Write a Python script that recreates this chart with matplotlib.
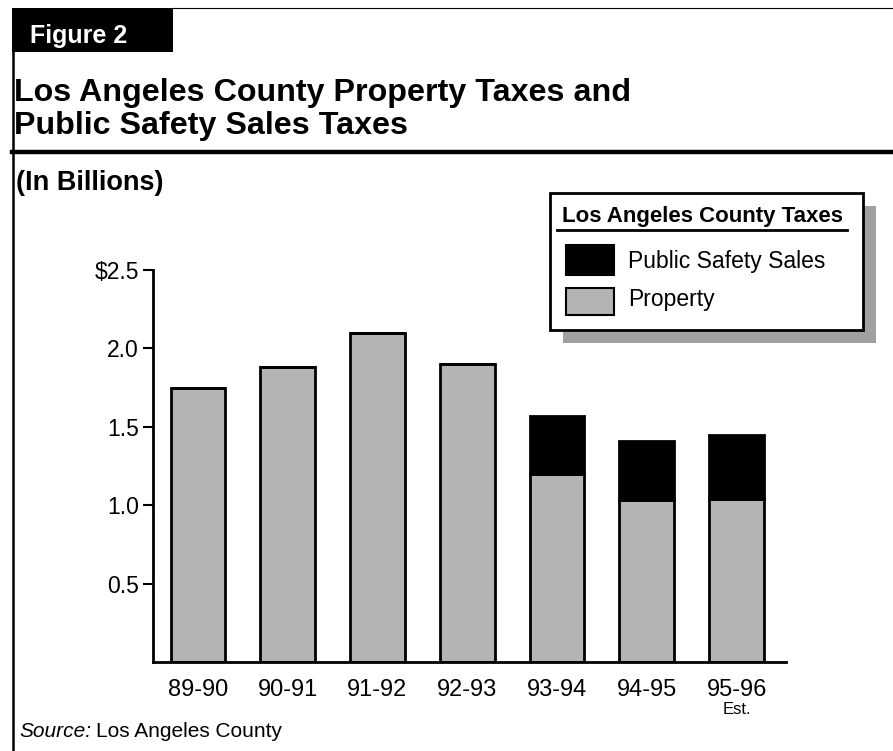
import matplotlib
matplotlib.use("Agg")
import matplotlib.pyplot as plt
from matplotlib.patches import Rectangle
from matplotlib.lines import Line2D

years = ["89-90", "90-91", "91-92", "92-93", "93-94", "94-95", "95-96"]
property_tax = [1.75, 1.88, 2.10, 1.90, 1.20, 1.03, 1.04]
safety_sales = [0.00, 0.00, 0.00, 0.00, 0.37, 0.38, 0.41]
y_ticks = [0.5, 1.0, 1.5, 2.0, 2.5]
y_labels = ["0.5", "1.0", "1.5", "2.0", "$2.5"]

W, H = 893, 751
GRAY = "#b4b4b4"
plt.rcParams["font.family"] = ["Liberation Sans", "DejaVu Sans"]


def fx(px):
    return px / W


def fy(py):
    return 1 - py / H


fig = plt.figure(figsize=(W / 100, H / 100), dpi=100)

# header frame
fig.add_artist(Rectangle((fx(12), fy(52)), fx(161), 44 / H, facecolor="black",
                         edgecolor="none", transform=fig.transFigure))
fig.text(fx(30), fy(43), "Figure 2", color="white", fontsize=18,
         fontweight="bold", va="baseline", ha="left")
fig.add_artist(Line2D([fx(172), 1], [fy(8), fy(8)], color="black", lw=0.8))
fig.add_artist(Line2D([fx(13), fx(13)], [fy(52), 0], color="black", lw=1.8))
fig.add_artist(Line2D([fx(12), 1], [fy(152), fy(152)], color="black", lw=3.2))

fig.text(fx(14), fy(101), "Los Angeles County Property Taxes and", fontsize=23.2,
         fontweight="bold", va="baseline", ha="left")
fig.text(fx(14), fy(134), "Public Safety Sales Taxes", fontsize=23.2,
         fontweight="bold", va="baseline", ha="left")
fig.text(fx(16), fy(190), "(In Billions)", fontsize=19.5, fontweight="bold",
         va="baseline", ha="left")

# chart
ax = fig.add_axes([fx(153), fy(662), fx(786 - 153), (662 - 270) / H])
x = list(range(len(years)))
ax.bar(x, property_tax, width=0.61, color=GRAY, edgecolor="black", linewidth=2,
       zorder=2)
ax.bar(x, safety_sales, width=0.61, bottom=property_tax, color="black",
       edgecolor="black", linewidth=2, zorder=2)

ax.set_xlim(-0.5, 6.55)
ax.set_ylim(0, 2.5)
ax.set_yticks(y_ticks)
ax.set_yticklabels(y_labels, fontsize=16.5)
ax.set_xticks(x)
ax.set_xticklabels(years, fontsize=17)
ax.tick_params(axis="x", length=0, pad=12)
ax.tick_params(axis="y", direction="out", length=7, width=1.5, pad=3)
for side in ("top", "right"):
    ax.spines[side].set_visible(False)
ax.spines["left"].set_linewidth(2)
ax.spines["bottom"].set_linewidth(2)
ax.text(6, -0.305, "Est.", fontsize=12, ha="center", va="center")

# legend
fig.add_artist(Rectangle((fx(563), fy(343)), fx(313), 137 / H, facecolor="#a0a0a0",
                         edgecolor="none", transform=fig.transFigure))
fig.add_artist(Rectangle((fx(550), fy(330)), fx(313), 137 / H, facecolor="white",
                         edgecolor="black", lw=2, transform=fig.transFigure))
fig.text(fx(703), fy(222), "Los Angeles County Taxes", fontsize=16,
         fontweight="bold", ha="center", va="baseline")
fig.add_artist(Line2D([fx(557), fx(847)], [fy(230), fy(230)], color="black", lw=2))
fig.add_artist(Rectangle((fx(566), fy(275)), fx(48), 30 / H, facecolor="black",
                         edgecolor="black", lw=1.5, transform=fig.transFigure))
fig.text(fx(628), fy(268), "Public Safety Sales", fontsize=16.5, ha="left",
         va="baseline")
fig.add_artist(Rectangle((fx(566), fy(315)), fx(48), 27 / H, facecolor=GRAY,
                         edgecolor="black", lw=1.5, transform=fig.transFigure))
fig.text(fx(628), fy(306), "Property", fontsize=16.5, ha="left", va="baseline")

# source
fig.text(fx(19), fy(737), "Source:", fontsize=15, style="italic",
         ha="left", va="baseline")
fig.text(fx(96), fy(737), "Los Angeles County", fontsize=15,
         ha="left", va="baseline")

fig.savefig("out.png", dpi=100)
